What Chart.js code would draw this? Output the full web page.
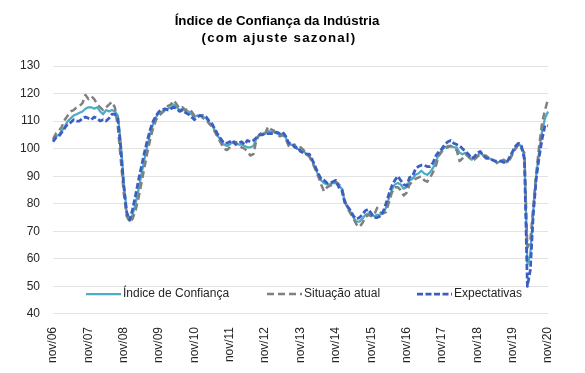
<!DOCTYPE html>
<html><head><meta charset="utf-8">
<script src="https://cdn.jsdelivr.net/npm/chart.js@4.4.1/dist/chart.umd.min.js"></script>
<style>html,body{margin:0;padding:0;background:#fff}#wrap{width:585px;height:373px}</style>
</head><body><div id="wrap"><canvas id="c" width="585" height="373"></canvas></div>
<script>
const monthNames = ['jan','fev','mar','abr','mai','jun','jul','ago','set','out','nov','dez'];
const titleLines = ['Índice de Confiança da Indústria', '(com ajuste sazonal)'];
const seriesNames = ['Índice de Confiança', 'Situação atual', 'Expectativas'];
const yTicks = {min: 40, max: 130, step: 10};

// nov/06 .. nov/20 (monthly)
const categories = [];
for (let y = 2006; y <= 2020; y++) {
  for (let m = 0; m < 12; m++) {
    if ((y === 2006 && m < 10) || (y === 2020 && m > 10)) continue;
    categories.push(monthNames[m] + '/' + String(y % 100).padStart(2, '0'));
  }
}

const indiceConfianca = [
  103,104.5,105,106.5,108,110,111,112,112.5,113,113.5,114.5,
  115,115,114.5,115,113.5,112.5,114,113.5,114,113.5,112,102,
  88,77,74,76,80,85,90.5,96,101,105.5,109,111.5,
  113,113.5,114,114.5,115,116,115,114,114.5,113.5,113.5,112.5,
  111.5,112,112,111.5,111,109.5,108.5,106.5,104.5,103,101.5,101,
  101.5,102.5,102,101.5,101.5,101,100.5,100.5,101,103.5,105,105.5,
  105.5,106.5,106,106,105.5,105,105.5,104,101.5,101.5,101,100,
  99.5,99,98,97.5,95.5,93,90.5,88.5,87.5,87,87,87.5,
  87.5,86.5,85.5,81,78.5,77,75,73.5,73.5,74.5,76,76.5,
  76,75.5,76,76,76.5,78.5,82,85,87,87.5,87,85.5,
  86,88.5,89,90.5,91,92,91,90.5,91.5,93,95.5,98,
  99.5,100.5,101,101,100.5,100.5,98.5,98,98.5,97.5,96,96.5,
  97.5,98.5,97.5,97,96.5,96,95.5,95,95.5,95.5,95,96.5,
  98.5,100.5,102,100.5,97.5,58,61.5,77.5,90,99,106.5,111,
  113.5
];
const situacaoAtual = [
  103.5,105.5,106.5,108,110.5,112,113.5,114,115,115.5,116.5,119.5,
  118,119,118,116,115,114,115,116,117,115,108,96,
  84,75.5,73.5,74.5,77.5,82,87.5,93,98.5,103.5,107.5,110.5,
  112,113,114,115.5,116,117.5,116,114.5,115,114,114.5,113.5,
  112,112.5,112,111,110.5,109,108,106,104,102,100,99.5,
  100.5,102,102.5,101,100.5,100,99,97.5,98,103,105,106,
  105.5,108,107,106.5,105,104.5,105,103.5,101,101,101.5,99.5,
  100.5,99.5,98,97,95,92.5,90,87,84.5,86,86.5,87,
  88,87,86,81.5,78,76.5,74.5,72.5,71.5,73,75,76,
  75.5,76,78.5,77,76.5,77,80.5,84,86,86,85,83,
  84,87,88,89,89.5,90,88.5,88,89.5,91.5,94,97.5,
  99,100,100.5,101,100,99.5,95.5,96.5,98,97,96,96,
  97,98,97.5,97.5,96.5,96,95.5,94.5,95.5,96,95,96,
  98,100,101.5,100,98.5,64,66.5,79,91,101,109.5,114,
  118
];
const expectativas = [
  102.5,104,104.5,106,107.5,109,109.5,110.5,110,110,111,111.5,
  111,110.5,111.5,111,110,110.5,110,111,112.5,112.5,111,100,
  86.5,77,74,78,83,88.5,93.5,98.5,103,107,110,112,
  113.5,114,114.5,114,114.5,115,114.5,113.5,114,113,112.5,111.5,
  110.5,111.5,112,112,111.5,110,109,107,105,103.5,102,102,
  102.5,103,101.5,102,102.5,101.5,103,102.5,103,104,105,105,
  105.5,105.5,105.5,105.5,106,105.5,106,104.5,102,102,100.5,100.5,
  99,98.5,98,98,96,93.5,91,89,88.5,87.5,87.5,88,
  88.5,86,85,80.5,79,77.5,75.5,74.5,75,76,77.5,78,
  76.5,75,75,75.5,77,80,83.5,86.5,88.5,90,88.5,87,
  86.5,89.5,90,92.5,93.5,94,94,93.5,93.5,95,97.5,99,
  100,101.5,102.5,103,102,101.5,101,100,99,98,96.5,97,
  98.5,99,97.5,96.5,96.5,96,95.5,95.5,95.5,95,95,97,
  99,101,102,101,96,50,56,76,89,97,103.5,108.5,
  108.3
];

const FONT = "'Liberation Sans', Arial, sans-serif";
const TEXT = '#262626';

const titlePlugin = {
  id: 'customTitle',
  afterDraw(chart) {
    const ctx = chart.ctx;
    ctx.save();
    ctx.fillStyle = '#000';
    ctx.textAlign = 'center';
    ctx.textBaseline = 'middle';
    ctx.font = 'bold 13.3px ' + FONT;
    ctx.fillText(titleLines[0], 277, 21);
    if ('letterSpacing' in ctx) ctx.letterSpacing = '1.2px';
    ctx.fillText(titleLines[1], 279, 38);
    ctx.restore();
  }
};

const legendPlugin = {
  id: 'customLegend',
  afterDraw(chart) {
    const ctx = chart.ctx;
    const xs = [86, 267, 417];
    const y = 294;
    ctx.save();
    chart.data.datasets.forEach((ds, i) => {
      ctx.beginPath();
      ctx.strokeStyle = ds.borderColor;
      ctx.lineWidth = ds.borderWidth;
      ctx.setLineDash(ds.borderDash || []);
      ctx.moveTo(xs[i], y);
      ctx.lineTo(xs[i] + 35, y);
      ctx.stroke();
      ctx.setLineDash([]);
      ctx.fillStyle = TEXT;
      ctx.font = '12px ' + FONT;
      ctx.textAlign = 'left';
      ctx.textBaseline = 'middle';
      ctx.fillText(ds.label, xs[i] + 37, y);
    });
    ctx.restore();
  }
};

new Chart(document.getElementById('c'), {
  type: 'line',
  data: {
    labels: categories,
    datasets: [
      {label: seriesNames[0], data: indiceConfianca, borderColor: '#4BACC6', borderWidth: 2.25, order: 3},
      {label: seriesNames[1], data: situacaoAtual, borderColor: '#808080', borderWidth: 2.5, borderDash: [7, 4], order: 2},
      {label: seriesNames[2], data: expectativas, borderColor: '#3A5DC6', borderWidth: 2.75, borderDash: [6, 2.5], order: 1}
    ]
  },
  options: {
    responsive: false,
    animation: false,
    events: [],
    layout: {padding: {left: 7, right: 37, top: 66, bottom: 5}},
    elements: {point: {radius: 0}, line: {tension: 0, borderCapStyle: 'butt', borderJoinStyle: 'round'}},
    plugins: {legend: {display: false}, title: {display: false}, tooltip: {enabled: false}},
    scales: {
      x: {
        offset: false,
        grid: {display: false},
        border: {display: false},
        ticks: {
          autoSkip: false, minRotation: 90, maxRotation: 90, padding: 5,
          color: TEXT, font: {family: FONT, size: 12},
          callback: function(v) { const l = this.getLabelForValue(v); return l.startsWith('nov') ? l : ''; }
        }
      },
      y: {
        min: yTicks.min, max: yTicks.max,
        grid: {color: '#e3e3e3', lineWidth: 1, drawTicks: false},
        border: {display: false},
        ticks: {stepSize: yTicks.step, padding: 13, color: TEXT, font: {family: FONT, size: 12}}
      }
    }
  },
  plugins: [titlePlugin, legendPlugin]
});
</script></body></html>
